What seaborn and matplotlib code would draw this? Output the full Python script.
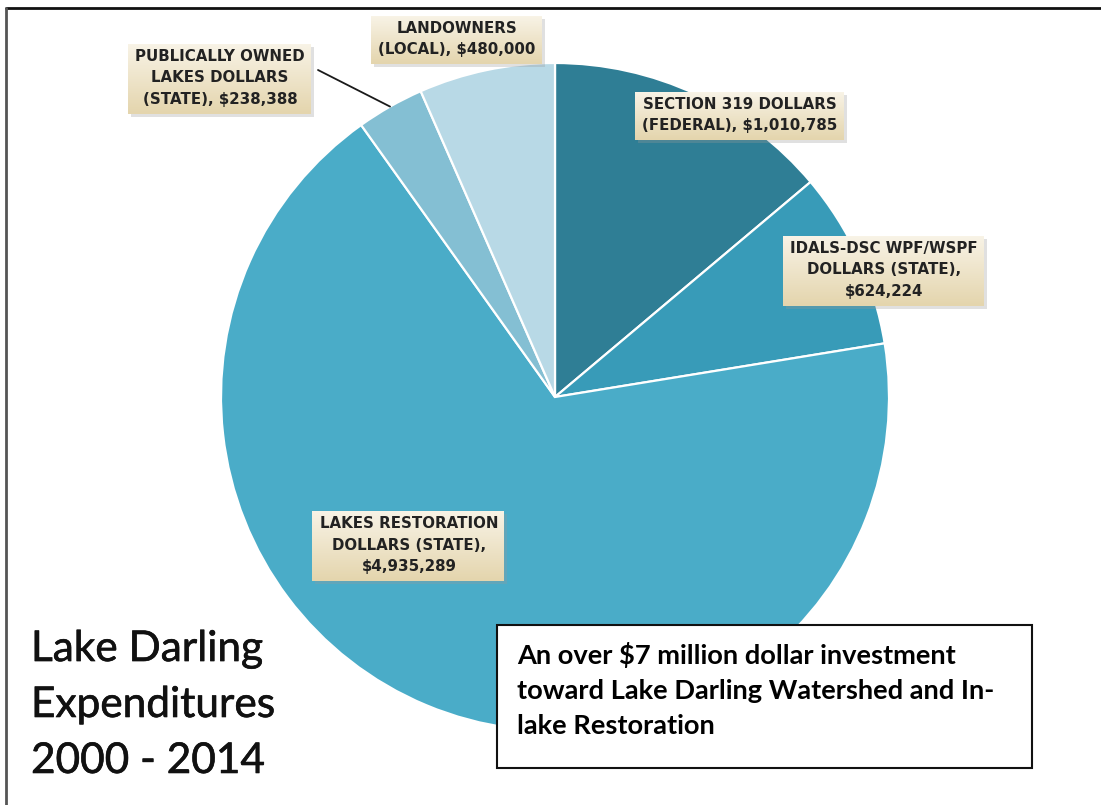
import matplotlib
matplotlib.use("Agg")
import matplotlib.pyplot as plt
import seaborn as sns
import numpy as np
from matplotlib.lines import Line2D
from matplotlib.patches import Rectangle
import matplotlib.patheffects as pe

sns.set_theme(style="white")

# ---- data ----
categories = [
    "SECTION 319 DOLLARS\n(FEDERAL), $1,010,785",
    "IDALS-DSC WPF/WSPF\nDOLLARS (STATE),\n$624,224",
    "LAKES RESTORATION\nDOLLARS (STATE),\n$4,935,289",
    "PUBLICALLY OWNED\nLAKES DOLLARS\n(STATE), $238,388",
    "LANDOWNERS\n(LOCAL), $480,000",
]
values = [1010785, 624224, 4935289, 238388, 480000]
slice_colors = ["#2F7E95", "#389BB8", "#4AACC8", "#84BFD3", "#B8D9E6"]

title_lines = "Lake Darling\nExpenditures\n2000 - 2014"
note_text = "An over $7 million dollar investment\ntoward Lake Darling Watershed and In-\nlake Restoration"

W, H = 1101, 805
DPI = 100
fig = plt.figure(figsize=(W / DPI, H / DPI), dpi=DPI)
fig.patch.set_facecolor("white")

def fx(x):
    return x / W

def fy(y):
    return 1 - y / H

# pie axes: centre (555, 397), radius 334 px
cx, cy, r = 555, 397, 334
ax = fig.add_axes([fx(cx - r), fy(cy + r), 2 * r / W, 2 * r / H])
palette = sns.color_palette(slice_colors)
wedges, _ = ax.pie(values, colors=palette, startangle=90, counterclock=False,
                   radius=1.0, wedgeprops=dict(edgecolor="white", linewidth=1.6))
ax.set_xlim(-1, 1)
ax.set_ylim(-1, 1)
ax.set_aspect("equal")
ax.axis("off")

lab_font = dict(family="DejaVu Sans", fontweight="bold", fontsize=10.8,
                color="#222222", ha="center", va="center", linespacing=1.55,
                zorder=10)

label_pos = [(740, 115), (884, 270), (409, 545), (220, 78), (457, 39)]
label_texts = []
for txt, (x, y) in zip(categories, label_pos):
    label_texts.append(fig.text(fx(x), fy(y), txt, **lab_font))

# leader line for the small "publically owned" slice
w = wedges[3]
mid = np.deg2rad((w.theta1 + w.theta2) / 2)
px = cx + r * np.cos(mid)
py = cy - r * np.sin(mid)
fig.add_artist(Line2D([fx(318), fx(px)], [fy(70), fy(py)], color="#1A1A1A", lw=1.3))

# title text
fig.text(fx(31), fy(705), title_lines, family="Lato", fontsize=30.5, color="#111111",
         ha="left", va="center", linespacing=1.58,
         path_effects=[pe.withStroke(linewidth=0.45, foreground="#111111")])

# note box
fig.add_artist(Rectangle((fx(497), fy(768)), fx(1032) - fx(497), fy(625) - fy(768),
                         transform=fig.transFigure, facecolor="white",
                         edgecolor="#111111", lw=1.5, zorder=5))
fig.text(fx(517), fy(690), note_text, family="Lato", fontweight="bold", fontsize=19.6,
         color="#000000", ha="left", va="center", linespacing=1.53, zorder=6)

# frame lines (top and left)
fig.add_artist(Line2D([fx(6), fx(1101)], [fy(8), fy(8)], color="#111111", lw=2))
fig.add_artist(Line2D([fx(6.5), fx(6.5)], [fy(8), fy(805)], color="#555555", lw=2))

# gradient label boxes behind label texts
fig.canvas.draw()
renderer = fig.canvas.get_renderer()
top_c = np.array([248, 243, 230]) / 255
bot_c = np.array([228, 213, 173]) / 255
for t in label_texts:
    bb = t.get_window_extent(renderer)
    padx, pady = 7, 6
    x0 = int(bb.x0 - padx)
    y0 = int(bb.y0 - pady)
    wpx = int(bb.width + 2 * padx)
    hpx = int(bb.height + 2 * pady)
    # soft shadow
    sh = np.zeros((hpx, wpx, 4))
    sh[..., :3] = 0.6
    sh[..., 3] = 0.3
    fig.figimage(sh, xo=x0 + 3, yo=y0 - 3, zorder=8, origin="lower")
    frac = np.linspace(0, 1, hpx)[:, None]  # 0 at bottom row (origin lower)
    col = bot_c[None, :] * (1 - frac) + top_c[None, :] * frac
    img = np.repeat(col[:, None, :], wpx, axis=1)
    fig.figimage(img, xo=x0, yo=y0, zorder=9, origin="lower")

fig.savefig("out.png", dpi=DPI, facecolor="white")
